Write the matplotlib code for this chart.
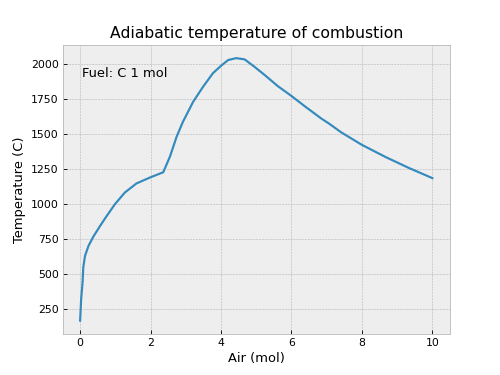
import matplotlib
matplotlib.use("Agg")
import matplotlib.pyplot as plt

# Air (mol) vs adiabatic flame temperature (C)
air_mol = [0.0, 0.03, 0.07, 0.09, 0.14, 0.24, 0.38, 0.57, 0.76, 0.99,
           1.27, 1.6, 1.98, 2.36, 2.55, 2.74, 2.92, 3.21, 3.49, 3.77,
           4.0, 4.2, 4.43, 4.67, 4.95, 5.24, 5.61, 6.0, 6.37, 6.85,
           7.08, 7.41, 8.0, 8.68, 9.34, 10.0]
temp_c = [166, 321, 441, 548, 631, 702, 769, 845, 917, 1000,
          1083, 1148, 1190, 1228, 1340, 1483, 1590, 1733, 1840, 1937,
          1990, 2031, 2045, 2036, 1983, 1924, 1845, 1774, 1702, 1612,
          1574, 1514, 1424, 1336, 1258, 1186]

plt.style.use("bmh")
# default 6.4 x 4.8 in figure, saved small -> 500 x 375 px
fig, ax = plt.subplots(figsize=(6.4, 4.8), dpi=500 / 6.4)

ax.plot(air_mol, temp_c)
ax.text(0.05, 0.9, "Fuel: C 1 mol", transform=ax.transAxes,
        ha="left", va="center", fontsize=12)

ax.set_title("Adiabatic temperature of combustion")
ax.set_xlabel("Air (mol)")
ax.set_ylabel("Temperature (C)")

fig.savefig("out.png")
